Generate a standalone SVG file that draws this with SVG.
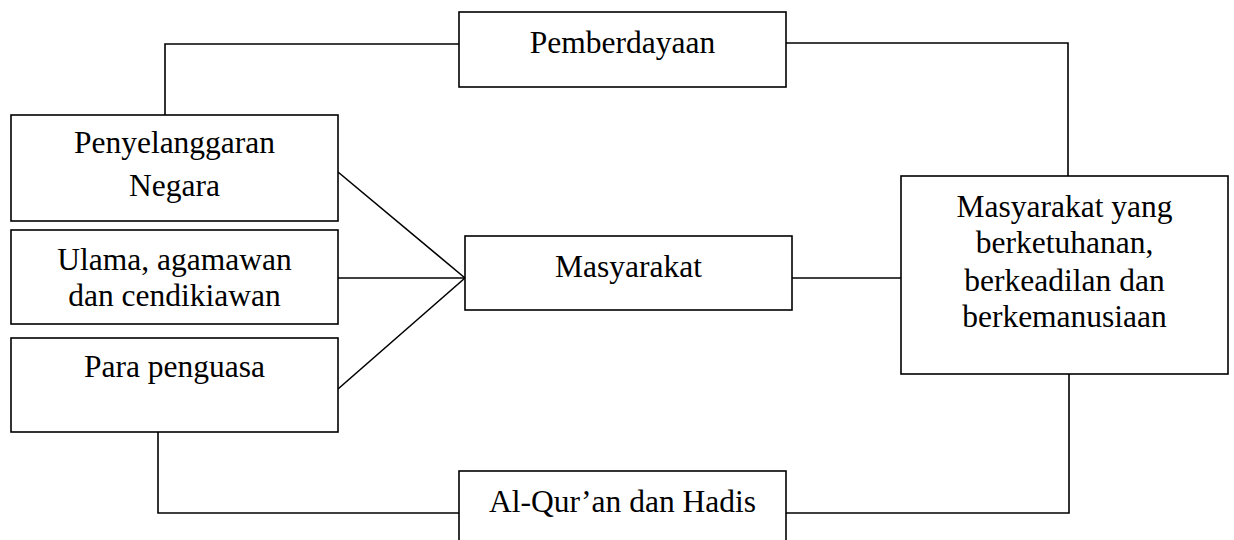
<svg xmlns="http://www.w3.org/2000/svg" width="1234" height="540" viewBox="0 0 1234 540">
<style>
.box{fill:#fff;stroke:#000;stroke-width:1.6}
.ln{fill:none;stroke:#000;stroke-width:1.6}
text{font-family:"Liberation Serif","Times New Roman",serif;font-size:31.5px;fill:#000;text-anchor:middle}
</style>
<rect width="1234" height="540" fill="#fff"/>
<g id="connectors">
<polyline class="ln" points="165,115 165,44 459,44"/>
<polyline class="ln" points="786,43 1068,43 1068,176"/>
<polyline class="ln" points="158,432 158,513 459,513"/>
<polyline class="ln" points="786,513 1069,513 1069,374"/>
<line class="ln" x1="338" y1="172" x2="465" y2="278"/>
<line class="ln" x1="338" y1="278" x2="465" y2="278"/>
<line class="ln" x1="338" y1="389" x2="465" y2="278"/>
<line class="ln" x1="792" y1="278" x2="901" y2="278"/>
</g>
<g id="pemberdayaan">
<rect class="box" x="459" y="12" width="327" height="75"/>
<text x="622.5" y="53">Pemberdayaan</text>
</g>
<g id="penyelenggaran">
<rect class="box" x="11" y="115" width="327" height="106"/>
<text x="174.5" y="153">Penyelanggaran</text>
<text x="174.5" y="196">Negara</text>
</g>
<g id="ulama">
<rect class="box" x="11" y="230" width="327" height="94"/>
<text x="174.5" y="270">Ulama, agamawan</text>
<text x="174.5" y="306">dan cendikiawan</text>
</g>
<g id="penguasa">
<rect class="box" x="11" y="338" width="327" height="94"/>
<text x="174.5" y="377">Para penguasa</text>
</g>
<g id="masyarakat">
<rect class="box" x="465" y="236" width="327" height="74"/>
<text x="628.5" y="277">Masyarakat</text>
</g>
<g id="tujuan">
<rect class="box" x="901" y="176" width="327" height="198"/>
<text x="1064.5" y="217">Masyarakat yang</text>
<text x="1064.5" y="253">berketuhanan,</text>
<text x="1064.5" y="291">berkeadilan dan</text>
<text x="1064.5" y="327">berkemanusiaan</text>
</g>
<g id="alquran">
<rect class="box" x="459" y="471" width="327" height="80"/>
<text x="622.5" y="512">Al-Qur’an dan Hadis</text>
</g>
</svg>
